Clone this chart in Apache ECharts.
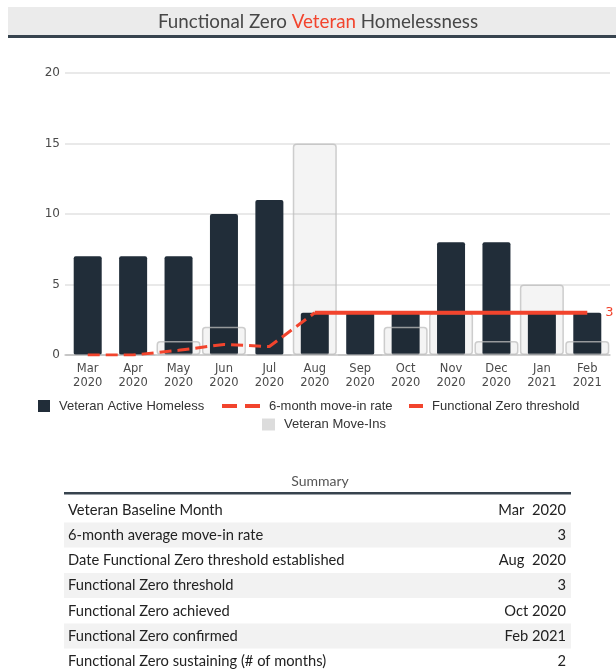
<!DOCTYPE html>
<html>
<head>
<meta charset="utf-8">
<script src="https://cdn.jsdelivr.net/npm/echarts@6/dist/echarts.min.js"></script>
<style>
html,body{margin:0;padding:0;background:#fff;}
#chart{width:616px;height:671px;}
</style>
</head>
<body>
<div id="chart"></div>
<script>
// ---- data ----
const categories = ['Mar 2020','Apr 2020','May 2020','Jun 2020','Jul 2020','Aug 2020','Sep 2020','Oct 2020','Nov 2020','Dec 2020','Jan 2021','Feb 2021'];
const activeHomeless = [7, 7, 7, 10, 11, 3, 3, 3, 8, 8, 3, 3];
const moveIns = [0, 0, 1, 2, 0, 15, 0, 2, 3, 1, 5, 1];
const moveInRate = [0, 0, 0.33, 0.75, 0.6, 3, null, null, null, null, null, null];
const threshold = [null, null, null, null, null, 3, 3, 3, 3, 3, 3, 3];
const yTicks = [0, 5, 10, 15, 20];
const summaryLabels = ['Veteran Baseline Month','6-month average move-in rate','Date Functional Zero threshold established','Functional Zero threshold','Functional Zero achieved','Functional Zero confirmed','Functional Zero sustaining (# of months)'];
const summaryValues = ['Mar  2020','3','Aug  2020','3','Oct 2020','Feb 2021','2'];

// ---- styles ----
const DARK = '#212d39';
const RED = '#f2442d';
const axisFont = 'DejaVu Sans, Verdana, sans-serif';
const legendFont = 'Liberation Sans, Arial, sans-serif';
const tableFont = 'Lato, Carlito, sans-serif';

const chart = echarts.init(document.getElementById('chart'), null, {renderer: 'canvas'});

const graphics = [];
// title band
graphics.push({type:'rect', shape:{x:8, y:7, width:608, height:28}, style:{fill:'#ebebeb'}, z:0});
graphics.push({type:'rect', shape:{x:8, y:35, width:608, height:3}, style:{fill:'#37434e'}, z:1});
graphics.push({type:'text', x:318, y:22, style:{
  text:'{a|Functional Zero }{r|Veteran}{a| Homelessness}',
  align:'center', verticalAlign:'middle',
  rich:{a:{fontFamily:tableFont, fontSize:18.8, fill:'#474747'}, r:{fontFamily:tableFont, fontSize:18.8, fill:RED}}
}, z:2});
// summary table
graphics.push({type:'text', x:320, y:481, style:{text:'Summary', align:'center', verticalAlign:'middle', fontFamily:tableFont, fontSize:14, fill:'#555'}});
graphics.push({type:'rect', shape:{x:64, y:492, width:507, height:2.5}, style:{fill:'#37434e'}});
summaryLabels.forEach((lab, i) => {
  const cy = 510 + i * 25.2;
  if (i % 2 === 1) {
    graphics.push({type:'rect', shape:{x:64, y:cy - 12.6, width:507, height:25}, style:{fill:'#f2f2f2'}, z:0});
  }
  graphics.push({type:'text', x:68, y:cy, style:{text:lab, align:'left', verticalAlign:'middle', fontFamily:tableFont, fontSize:14.7, fill:'#222'}, z:1});
  graphics.push({type:'text', x:566, y:cy, style:{text:summaryValues[i], align:'right', verticalAlign:'middle', fontFamily:tableFont, fontSize:14.7, fill:'#222'}, z:1});
});

const legendText = {fontFamily:legendFont, fontSize:13, color:'#333'};

const option = {
  animation:false,
  backgroundColor:'#fff',
  grid:{left:65, right:6, top:73, bottom:316, containLabel:false},
  xAxis:[{
    type:'category', data:categories, boundaryGap:true,
    axisLine:{show:true, lineStyle:{color:'#c8c8c8', width:1.5}},
    axisTick:{show:false},
    axisLabel:{interval:0, margin:7, fontFamily:axisFont, fontSize:11.5, lineHeight:14, color:'#4a4a4a',
      formatter:v => v.replace(' ', '\n')},
    splitLine:{show:false}
  },{
    type:'category', data:categories, boundaryGap:true, show:false
  }],
  yAxis:{
    type:'value', min:yTicks[0], max:yTicks[yTicks.length-1], interval:5,
    axisLine:{show:false}, axisTick:{show:false},
    axisLabel:{margin:5, fontFamily:axisFont, fontSize:12, color:'#4a4a4a'},
    splitLine:{lineStyle:{color:'#e2e2e2', width:1.5}}
  },
  legend:[
    {data:['Veteran Active Homeless'], left:38, top:399.5, padding:0, itemWidth:12, itemHeight:12, icon:'rect', itemGap:0, textStyle:Object.assign({padding:[0,0,0,4]}, legendText)},
    {data:['6-month move-in rate'], left:222, top:399.5, padding:0, itemWidth:38, itemHeight:4,
      icon:'path://M0 0H15V4H0Z M23 0H38V4H23Z', itemGap:0, textStyle:Object.assign({padding:[0,0,0,4]}, legendText)},
    {data:['Functional Zero threshold'], left:409, top:399.5, padding:0, itemWidth:14, itemHeight:4, icon:'rect', itemGap:0, textStyle:Object.assign({padding:[0,0,0,4]}, legendText)},
    {data:[{name:'Veteran Move-Ins', itemStyle:{color:'#dcdcdc', borderWidth:0}}], left:262, top:418, padding:0, itemWidth:13, itemHeight:12, icon:'rect', itemGap:0, textStyle:Object.assign({padding:[0,0,0,4]}, legendText)}
  ],
  graphic:graphics,
  series:[
    {
      name:'Veteran Active Homeless', type:'bar', xAxisIndex:0, data:activeHomeless,
      barWidth:28, z:2,
      itemStyle:{color:DARK, borderRadius:2}
    },
    {
      name:'Veteran Move-Ins', type:'bar', xAxisIndex:1, data:moveIns,
      barWidth:'97%', z:3,
      itemStyle:{color:'rgba(0,0,0,0.045)', borderColor:'rgba(190,190,190,0.75)', borderWidth:1.5, borderRadius:3}
    },
    {
      name:'6-month move-in rate', type:'line', data:moveInRate, z:4,
      symbol:'none', showSymbol:false, connectNulls:false,
      itemStyle:{color:RED},
      lineStyle:{color:RED, width:3, type:[12,6]}
    },
    {
      name:'Functional Zero threshold', type:'line', data:threshold, z:5,
      symbol:'none', showSymbol:false,
      itemStyle:{color:RED},
      lineStyle:{color:RED, width:4},
      endLabel:{show:true, formatter:p => p.value, color:RED, fontFamily:axisFont, fontSize:13, distance:18}
    }
  ]
};
chart.setOption(option);
</script>
</body>
</html>
